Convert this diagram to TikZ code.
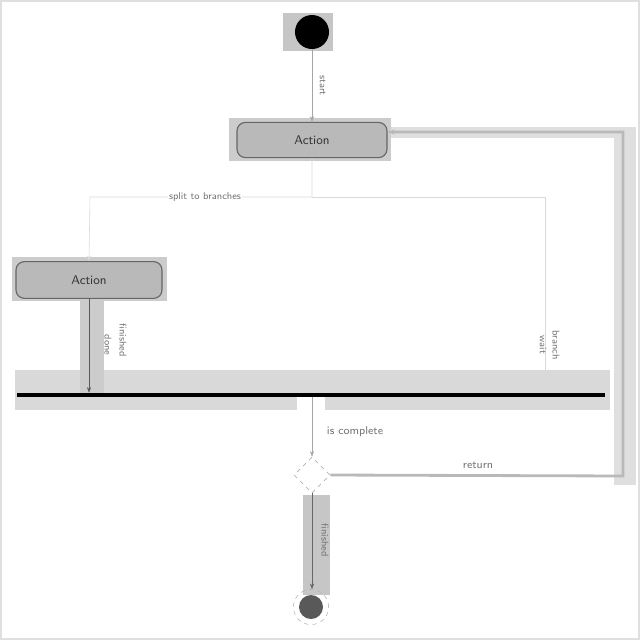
\documentclass[tikz,border=0pt]{standalone}
\usepackage{tikz}
\usetikzlibrary{shapes.geometric, arrows.meta, positioning}

\begin{document}
\begin{tikzpicture}[
    x=0.025cm, y=-0.025cm,
    action/.style={rectangle, rounded corners=6pt, draw=black!60, thick, fill=gray!55, minimum width=3.75cm, minimum height=0.88cm, font=\sffamily\small, text=black!80},
    flow/.style={draw=gray!70, thin, -{Stealth[length=4pt]}},
    faint/.style={draw=gray!30, thin},
    label_style/.style={font=\sffamily\scriptsize, text=black!55}
]

\useasboundingbox (0,0) rectangle (640,640);
\draw[gray!25, line width=2pt] (1,1) rectangle (639,639);

% ==========================
% BANDAS DE FONDO
% ==========================
\fill[gray!45] (283,13) rectangle (333,51);
\fill[gray!40] (229,118) rectangle (391,161);
\fill[gray!40] (12,257) rectangle (167,301);
\fill[gray!30] (15,370) rectangle (610,410);
\fill[white] (297,396) rectangle (325,410);
\fill[gray!40] (80,301) rectangle (104,395);
\fill[gray!45] (303,495) rectangle (330,595);
\fill[gray!25] (614,127) rectangle (636,485);
\fill[gray!25] (391,127) rectangle (636,138);

% ==========================
% NODOS
% ==========================
\node[circle, fill=black, minimum size=0.85cm, inner sep=0pt] (start) at (312,32) {};
\node[action] (act1) at (312,140) {Action};
\node[action, minimum width=3.65cm, minimum height=0.92cm] (act2) at (89,280) {Action};
\node[fill=black, inner sep=0pt, minimum width=14.7cm, minimum height=0.1cm] (bar) at (311,395) {};
\node[diamond, draw=gray!60, dashed, fill=white, inner sep=0pt, minimum width=0.9cm, minimum height=0.9cm] (dec) at (312,475) {};
\node[circle, fill=black!65, minimum size=0.6cm, inner sep=0pt] (stop) at (311,607) {};
\node[circle, draw=gray!60, dashed, minimum size=0.88cm, inner sep=0pt] (stopring) at (311,607) {};

% Coordenadas de los codos
\coordinate (split) at (312,197);
\coordinate (splitL) at (90,197);
\coordinate (splitR) at (545,197);
\coordinate (retB) at (623,476);
\coordinate (retT) at (623,132);

% ==========================
% CONEXIONES
% ==========================
\draw[flow] (start) -- node[label_style, right=2pt, rotate=-90, anchor=south] {start} (act1);

\draw[faint, -{Stealth[length=4pt]}] (act1.south) -- (split) -- (splitL) -- (act2.north);
\draw[faint] (split) -- (splitR) -- (splitR |- bar.north);
\node[label_style, fill=white, inner sep=1pt] (splitlabel) at (205,197) {split to branches};

\draw[black!65, -{Stealth[length=4pt]}] (act2.south) -- (act2.south |- bar.north);
\node[label_style, rotate=-90] (done) at (108,345) {done};
\node[label_style, rotate=-90] (finished) at (123,340) {finished};
\node[label_style, rotate=-90] (wait) at (543,345) {wait};
\node[label_style, rotate=-90] (branch) at (556,345) {branch};

\draw[flow] (dec |- bar.south) -- (dec.north);
\node[label_style, anchor=west, font=\sffamily\footnotesize] (complete) at (322,432) {is complete};

\draw[gray!55, line width=2pt, -{Stealth[length=5pt]}] (dec.east) -- (retB) -- (retT) -- (act1.east |- retT);
\node[label_style, font=\sffamily\footnotesize] (ret) at (478,465) {return};

\draw[black!60, -{Stealth[length=4pt]}] (dec.south) -- (dec.south |- stopring.north);
\node[label_style, rotate=-90] (fin) at (325,540) {finished};

\end{tikzpicture}
\end{document}
